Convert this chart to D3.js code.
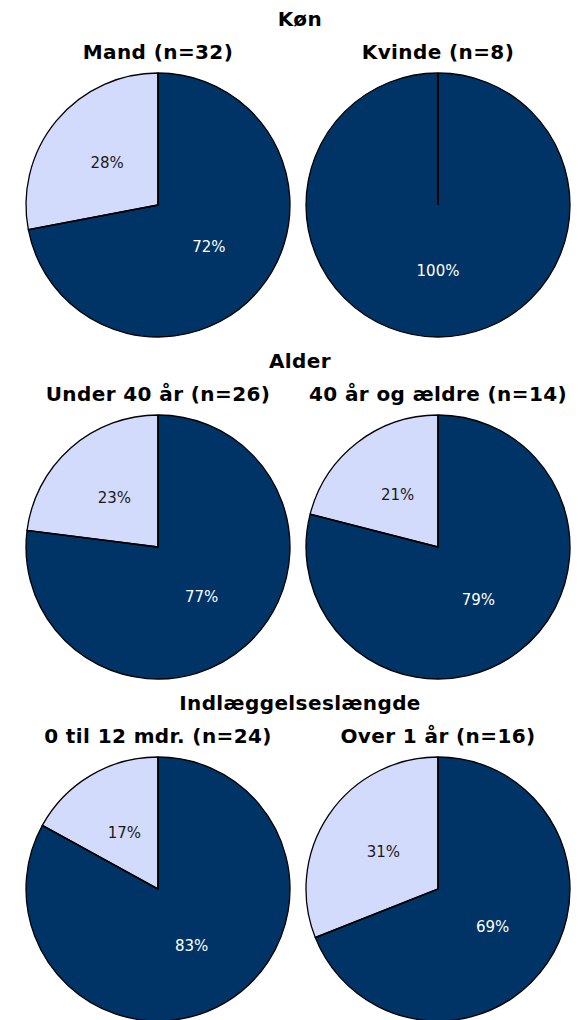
<!DOCTYPE html>
<html>
<head>
<meta charset="utf-8">
<script src="https://cdn.jsdelivr.net/npm/d3@7"></script>
<style>
  html, body { margin: 0; padding: 0; background: #fff; }
  svg { display: block; }
</style>
</head>
<body>
<svg id="chart" width="582" height="1020"></svg>
<script>
// ---- Data ----
const groupTitles = ["Køn", "Alder", "Indlæggelseslængde"];
const pieTitles = [
  ["Mand (n=32)", "Kvinde (n=8)"],
  ["Under 40 år (n=26)", "40 år og ældre (n=14)"],
  ["0 til 12 mdr. (n=24)", "Over 1 år (n=16)"]
];
// [dark share, light share] in percent
const darkValues = [
  [72, 100],
  [77, 79],
  [83, 69]
];
const lightValues = [
  [28, 0],
  [23, 21],
  [17, 31]
];

// ---- Layout ----
const W = 582, H = 1020;
const svg = d3.select("#chart");
const colors = ["#003366", "#D3DBFD"];
const labelColors = ["#ffffff", "#1a1a1a"];
const R = 132;
const rowStep = 342;
const colX = [158, 438];
const titleX = 300;
const fontBold = "'DejaVu Sans', Verdana, sans-serif";

const pie = d3.pie().sort(null).value(d => d.v).startAngle(0).endAngle(2 * Math.PI);
const arc = d3.arc().innerRadius(0).outerRadius(R);

groupTitles.forEach((gt, gi) => {
  const y0 = gi * rowStep;
  svg.append("text")
    .attr("x", titleX).attr("y", y0 + 26)
    .attr("text-anchor", "middle")
    .style("font-family", fontBold).style("font-weight", "bold")
    .style("font-size", "20px").style("letter-spacing", "0.4px")
    .attr("fill", "#000")
    .text(gt);

  colX.forEach((cx, ci) => {
    // subtitle, kept inside canvas
    const st = svg.append("text")
      .attr("y", y0 + 59)
      .attr("text-anchor", "middle")
      .style("font-family", fontBold).style("font-weight", "bold")
      .style("font-size", "20px").style("letter-spacing", "0.4px")
      .attr("fill", "#000")
      .text(pieTitles[gi][ci]);
    const tw = st.node().getComputedTextLength();
    const sx = Math.min(cx, W - 14 - tw / 2);
    st.attr("x", sx);

    const cy = y0 + 205;
    const g = svg.append("g").attr("transform", `translate(${cx},${cy})`);
    const data = [
      { v: darkValues[gi][ci], k: 0 },
      { v: lightValues[gi][ci], k: 1 }
    ];
    const arcs = pie(data);
    g.selectAll("path.slice").data(arcs.filter(a => a.data.v > 0)).enter()
      .append("path").attr("class", "slice")
      .attr("d", arc)
      .attr("fill", d => colors[d.data.k])
      .attr("stroke", "#000").attr("stroke-width", 1.3)
      .attr("stroke-linejoin", "round");
    // radial boundary lines (including zero-width slices)
    g.selectAll("line.bound").data(arcs).enter()
      .append("line").attr("class", "bound")
      .attr("x1", 0).attr("y1", 0)
      .attr("x2", d => R * Math.sin(d.startAngle))
      .attr("y2", d => -R * Math.cos(d.startAngle))
      .attr("stroke", "#000").attr("stroke-width", 1.6);
    g.selectAll("text.lbl").data(arcs.filter(a => a.data.v > 0)).enter()
      .append("text").attr("class", "lbl")
      .attr("transform", d => `translate(${arc.centroid(d)})`)
      .attr("text-anchor", "middle").attr("dy", "0.36em")
      .style("font-family", fontBold).style("font-size", "15px")
      .attr("fill", d => labelColors[d.data.k])
      .text(d => d.data.v + "%");
  });
});
</script>
</body>
</html>
